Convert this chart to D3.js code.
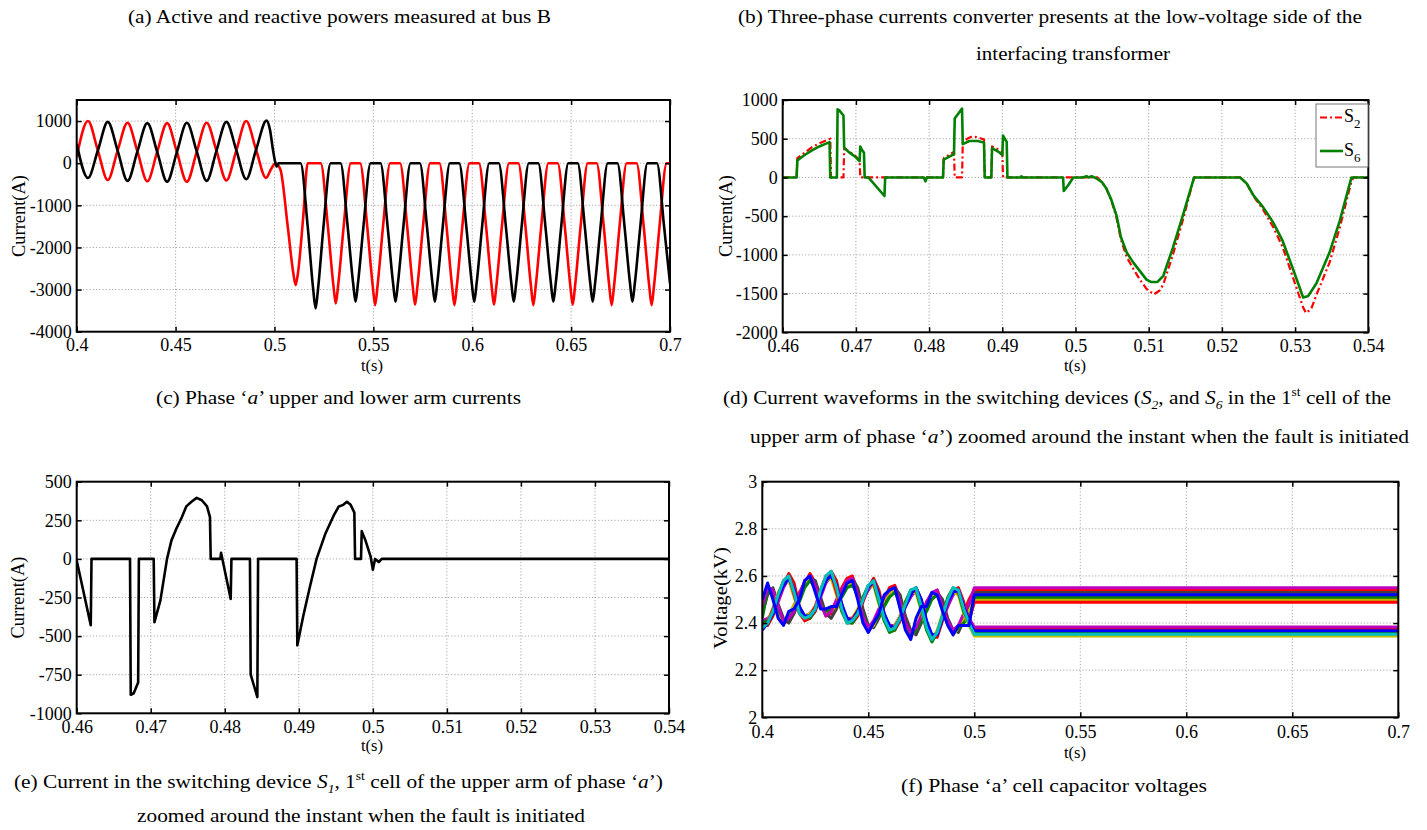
<!DOCTYPE html>
<html><head><meta charset="utf-8">
<script src="https://cdn.jsdelivr.net/npm/d3@7"></script>
<style>
body{margin:0;background:#fff;}
svg{display:block;font-family:"Liberation Serif","Times New Roman",serif;}
</style></head><body>
<svg id="chart" width="1427" height="830"></svg>
<script>
// ---------------- DATA ----------------
// Panel top-left: arm currents (A) vs t(s)
const p1XTicks = [0.4,0.45,0.5,0.55,0.6,0.65,0.7];
const p1XLabels = ["0.4","0.45","0.5","0.55","0.6","0.65","0.7"];
const p1YTicks = [-4000,-3000,-2000,-1000,0,1000];
const p1YLabels = ["-4000","-3000","-2000","-1000","0","1000"];
const p1Red = [
[0.4000,150],[0.4057,1000],[0.4107,300],[0.4157,-400],[0.4207,300],[0.4257,960],[0.4307,280],[0.4357,-430],[0.4407,270],[0.4457,950],
[0.4507,260],[0.4557,-440],[0.4607,270],[0.4657,960],[0.4707,290],[0.4757,-410],[0.4807,300],[0.4857,1000],[0.4907,320],[0.4957,-350],
[0.4985,-120],[0.5005,0],[0.5030,-150],[0.5067,-1500],[0.5095,-2600],[0.5107,-2890],[0.5119,-2600],[0.5145,-1300],[0.5168,0],
[0.5234,0],[0.5270,-1500],[0.5298,-2900],[0.5310,-3330],[0.5322,-2900],[0.5350,-1500],[0.5386,0],
[0.5433,0],[0.5469,-1500],[0.5497,-2920],[0.5509,-3370],[0.5521,-2920],[0.5549,-1500],[0.5585,0],
[0.5635,0],[0.5671,-1500],[0.5699,-2910],[0.5711,-3360],[0.5723,-2910],[0.5751,-1500],[0.5787,0],
[0.5834,0],[0.5870,-1500],[0.5898,-2920],[0.5910,-3370],[0.5922,-2920],[0.5950,-1500],[0.5986,0],
[0.6034,0],[0.6070,-1500],[0.6098,-2910],[0.6110,-3360],[0.6122,-2910],[0.6150,-1500],[0.6186,0],
[0.6233,0],[0.6269,-1500],[0.6297,-2920],[0.6309,-3370],[0.6321,-2920],[0.6349,-1500],[0.6385,0],
[0.6432,0],[0.6468,-1500],[0.6496,-2910],[0.6508,-3360],[0.6520,-2910],[0.6548,-1500],[0.6584,0],
[0.6629,0],[0.6665,-1500],[0.6693,-2920],[0.6705,-3370],[0.6717,-2920],[0.6745,-1500],[0.6781,0],
[0.6831,0],[0.6867,-1500],[0.6895,-2920],[0.6907,-3370],[0.6919,-2920],[0.6947,-1500],[0.6983,0],[0.7000,0]
];
const p1Black = [
[0.4000,460],[0.4057,-350],[0.4107,300],[0.4157,980],[0.4207,300],[0.4257,-420],[0.4307,280],[0.4357,950],[0.4407,270],[0.4457,-440],
[0.4507,270],[0.4557,960],[0.4607,280],[0.4657,-420],[0.4707,300],[0.4757,980],[0.4807,310],[0.4857,-380],[0.4907,320],[0.4960,1010],
[0.4977,800],[0.4993,300],[0.5005,0],[0.5012,-80],[0.5020,0],
[0.5132,0],[0.5168,-1500],[0.5196,-3000],[0.5208,-3450],[0.5220,-3000],[0.5248,-1500],[0.5284,0],
[0.5334,0],[0.5370,-1500],[0.5398,-2860],[0.5410,-3290],[0.5422,-2860],[0.5450,-1500],[0.5486,0],
[0.5536,0],[0.5572,-1500],[0.5600,-2860],[0.5612,-3290],[0.5624,-2860],[0.5652,-1500],[0.5688,0],
[0.5735,0],[0.5771,-1500],[0.5799,-2860],[0.5811,-3290],[0.5823,-2860],[0.5851,-1500],[0.5887,0],
[0.5934,0],[0.5970,-1500],[0.5998,-2860],[0.6010,-3290],[0.6022,-2860],[0.6050,-1500],[0.6086,0],
[0.6134,0],[0.6170,-1500],[0.6198,-2860],[0.6210,-3290],[0.6222,-2860],[0.6250,-1500],[0.6286,0],
[0.6334,0],[0.6370,-1500],[0.6398,-2860],[0.6410,-3290],[0.6422,-2860],[0.6450,-1500],[0.6486,0],
[0.6533,0],[0.6569,-1500],[0.6597,-2860],[0.6609,-3290],[0.6621,-2860],[0.6649,-1500],[0.6685,0],
[0.6734,0],[0.6770,-1500],[0.6798,-2860],[0.6810,-3290],[0.6822,-2860],[0.6850,-1500],[0.6886,0],
[0.6934,0],[0.6970,-1500],[0.7000,-2850]
];

// Panel top-right: S2 / S6 currents (A)
const p2XTicks = [0.46,0.47,0.48,0.49,0.5,0.51,0.52,0.53,0.54];
const p2XLabels = ["0.46","0.47","0.48","0.49","0.5","0.51","0.52","0.53","0.54"];
const p2YTicks = [-2000,-1500,-1000,-500,0,500,1000];
const p2YLabels = ["-2000","-1500","-1000","-500","0","500","1000"];
const legendNames = ["2","6"];
const s2Current = [
[0.4600,0],[0.4619,0],[0.4620,250],[0.4630,320],[0.4640,390],[0.4650,440],[0.4660,480],[0.4665,500],[0.4666,0],[0.4683,0],
[0.4684,380],[0.4690,340],[0.4700,270],[0.4705,220],[0.4706,0],[0.4819,0],[0.4820,250],[0.4834,330],[0.4835,0],[0.4845,0],
[0.4846,450],[0.4852,500],[0.4859,530],[0.4866,520],[0.4875,490],[0.4876,0],[0.4885,0],[0.4886,400],[0.4895,360],[0.4900,330],
[0.4901,0],[0.5030,0],[0.5036,-60],[0.5042,-140],[0.5049,-300],[0.5056,-520],[0.5062,-800],[0.5070,-1030],[0.5079,-1180],[0.5088,-1320],
[0.5097,-1440],[0.5107,-1510],[0.5115,-1460],[0.5120,-1380],[0.5133,-1000],[0.5147,-540],[0.5162,0],[0.5225,0],[0.5234,-80],[0.5243,-240],
[0.5256,-410],[0.5270,-640],[0.5283,-900],[0.5297,-1290],[0.5311,-1680],[0.5315,-1750],[0.5322,-1700],[0.5329,-1520],[0.5347,-1100],[0.5361,-650],
[0.5377,-50],[0.5380,0],[0.5400,0]
];
const s6Current = [
[0.4600,0],[0.4619,0],[0.4620,220],[0.4630,290],[0.4640,350],[0.4650,400],[0.4660,440],[0.4664,455],[0.4665,0],[0.4674,0],
[0.4675,880],[0.4677,870],[0.4683,800],[0.4684,380],[0.4690,330],[0.4700,260],[0.4705,210],[0.4706,400],[0.4708,360],[0.4711,320],
[0.4712,0],[0.4717,0],[0.4739,-240],[0.4740,0],[0.4793,0],[0.4795,-50],[0.4797,0],[0.4819,0],[0.4820,230],[0.4834,300],
[0.4835,760],[0.4845,890],[0.4846,430],[0.4855,470],[0.4866,470],[0.4875,450],[0.4876,0],[0.4885,0],[0.4886,380],[0.4895,330],
[0.4900,290],[0.4901,540],[0.4906,460],[0.4907,0],[0.4925,0],[0.4926,15],[0.4928,0],[0.4983,0],[0.4984,-175],[0.4990,-100],
[0.4997,0],[0.5010,0],[0.5015,15],[0.5018,0],[0.5022,15],[0.5026,0],[0.5030,-20],[0.5036,-60],[0.5042,-140],[0.5049,-290],
[0.5056,-490],[0.5062,-770],[0.5070,-970],[0.5079,-1100],[0.5088,-1210],[0.5097,-1320],[0.5103,-1350],[0.5112,-1350],[0.5120,-1270],[0.5133,-910],
[0.5147,-480],[0.5162,0],[0.5225,0],[0.5234,-80],[0.5243,-230],[0.5256,-380],[0.5270,-580],[0.5283,-820],[0.5297,-1180],[0.5311,-1550],
[0.5318,-1530],[0.5329,-1370],[0.5347,-970],[0.5361,-560],[0.5377,0],[0.5400,0]
];

// Panel bottom-left: S1 current (A)
const p3YTicks = [-1000,-750,-500,-250,0,250,500];
const p3YLabels = ["-1000","-750","-500","-250","0","250","500"];
const s1Current = [
[0.4600,-10],[0.4619,-430],[0.4620,0],[0.4672,0],[0.4673,-880],[0.4677,-870],[0.4683,-800],[0.4684,0],[0.4704,0],[0.4705,-410],
[0.4713,-270],[0.4722,0],[0.4728,120],[0.4735,200],[0.4742,270],[0.4748,340],[0.4755,370],[0.4762,395],[0.4769,380],[0.4776,340],
[0.4780,270],[0.4781,0],[0.4794,0],[0.4795,40],[0.4808,-260],[0.4809,0],[0.4834,0],[0.4835,-750],[0.4844,-895],[0.4845,0],
[0.4897,0],[0.4898,-560],[0.4906,-370],[0.4915,-180],[0.4924,0],[0.4936,165],[0.4947,280],[0.4954,340],[0.4960,350],[0.4965,370],
[0.4970,350],[0.4975,300],[0.4976,0],[0.4984,0],[0.4985,180],[0.4990,120],[0.4997,15],[0.5000,-70],[0.5003,0],[0.5008,-20],
[0.5012,0],[0.5400,0]
];

// Panel bottom-right: cell capacitor voltages (kV)
const p4YTicks = [2,2.2,2.4,2.6,2.8,3];
const p4YLabels = ["2","2.2","2.4","2.6","2.8","3"];
const capTimes = [
0.4000,0.4025,0.4050,0.4075,0.4100,0.4125,0.4150,0.4175,0.4200,0.4225,
0.4250,0.4275,0.4300,0.4325,0.4350,0.4375,0.4400,0.4425,0.4450,0.4475,
0.4500,0.4525,0.4550,0.4575,0.4600,0.4625,0.4650,0.4675,0.4700,0.4725,
0.4750,0.4775,0.4800,0.4825,0.4850,0.4875,0.4900,0.4925,0.4950,0.4975];
const capTailTimes = [0.5, 0.7];
// last value of each array = settled level after 0.5 s
const capA2 = [2.46,2.55,2.53,2.45,2.40,2.41,2.47,2.53,2.57,2.61, 2.57,2.49,2.43,2.44,2.49,2.55,2.59,2.60,2.53,2.44, 2.38,2.39,2.45,2.50,2.55,2.56,2.50,2.41,2.35,2.36, 2.42,2.49,2.52,2.54,2.48,2.40,2.36,2.37,2.44,2.50, 2.540];
const capA3 = [2.44,2.52,2.55,2.48,2.42,2.40,2.44,2.50,2.56,2.59, 2.58,2.51,2.44,2.42,2.46,2.52,2.57,2.59,2.55,2.46, 2.39,2.38,2.42,2.48,2.53,2.55,2.52,2.43,2.37,2.35, 2.40,2.46,2.51,2.53,2.50,2.42,2.37,2.36,2.41,2.47, 2.530];
const capA4 = [2.48,2.56,2.51,2.44,2.41,2.43,2.48,2.51,2.57,2.59, 2.54,2.47,2.44,2.45,2.48,2.53,2.56,2.57,2.51,2.42, 2.37,2.39,2.44,2.50,2.53,2.54,2.47,2.39,2.34,2.38, 2.44,2.48,2.52,2.53,2.46,2.39,2.35,2.38,2.42,2.45, 2.500];
const capA5 = [2.42,2.54,2.52,2.46,2.41,2.42,2.46,2.49,2.55,2.58, 2.55,2.48,2.45,2.46,2.48,2.51,2.55,2.56,2.52,2.44, 2.38,2.40,2.43,2.47,2.51,2.53,2.49,2.40,2.35,2.37, 2.41,2.45,2.50,2.52,2.47,2.40,2.36,2.38,2.40,2.43, 2.358];
const capA6 = [2.47,2.55,2.54,2.47,2.41,2.42,2.45,2.52,2.58,2.60, 2.56,2.48,2.43,2.45,2.50,2.54,2.58,2.59,2.52,2.43, 2.38,2.41,2.46,2.51,2.54,2.55,2.49,2.40,2.36,2.38, 2.43,2.49,2.53,2.54,2.47,2.41,2.37,2.39,2.44,2.48, 2.550];
const capB2 = [2.40,2.39,2.43,2.50,2.56,2.61,2.57,2.47,2.41,2.42, 2.45,2.52,2.59,2.62,2.58,2.48,2.41,2.40,2.43,2.49, 2.55,2.59,2.54,2.44,2.38,2.37,2.41,2.47,2.52,2.55, 2.50,2.40,2.34,2.34,2.41,2.48,2.54,2.55,2.49,2.41, 2.375];
const capB3 = [2.41,2.42,2.44,2.49,2.55,2.59,2.55,2.46,2.43,2.44, 2.47,2.51,2.57,2.60,2.56,2.47,2.42,2.42,2.45,2.50, 2.54,2.57,2.52,2.43,2.39,2.39,2.43,2.47,2.51,2.54, 2.49,2.40,2.35,2.35,2.42,2.47,2.52,2.54,2.48,2.42, 2.383];
const capB4 = [2.39,2.41,2.46,2.53,2.57,2.58,2.51,2.45,2.43,2.44, 2.47,2.53,2.58,2.59,2.52,2.45,2.41,2.42,2.46,2.51, 2.55,2.56,2.48,2.41,2.37,2.39,2.43,2.49,2.53,2.53, 2.45,2.37,2.33,2.37,2.44,2.50,2.53,2.52,2.44,2.39, 2.345];
const capB5 = [2.40,2.41,2.44,2.51,2.57,2.59,2.54,2.45,2.42,2.42, 2.46,2.53,2.59,2.61,2.54,2.45,2.40,2.40,2.44,2.51, 2.56,2.57,2.49,2.41,2.36,2.37,2.42,2.49,2.54,2.54, 2.46,2.37,2.32,2.36,2.43,2.51,2.55,2.53,2.45,2.40, 2.510];
const capB6 = [2.39,2.40,2.46,2.52,2.58,2.60,2.52,2.44,2.41,2.43, 2.47,2.54,2.60,2.61,2.53,2.46,2.41,2.42,2.45,2.50, 2.55,2.57,2.51,2.43,2.38,2.38,2.42,2.48,2.53,2.54, 2.48,2.39,2.34,2.35,2.42,2.49,2.54,2.53,2.47,2.41, 2.488];
const capB7 = [2.37,2.40,2.44,2.51,2.56,2.59,2.54,2.47,2.43,2.43, 2.46,2.52,2.58,2.60,2.56,2.48,2.42,2.41,2.45,2.50, 2.55,2.58,2.52,2.44,2.39,2.38,2.42,2.47,2.52,2.55, 2.50,2.41,2.35,2.35,2.42,2.49,2.53,2.54,2.47,2.41, 2.367];
const capB1 = [2.38,2.40,2.45,2.52,2.58,2.60,2.53,2.44,2.42,2.43, 2.46,2.54,2.60,2.62,2.55,2.46,2.40,2.41,2.44,2.50, 2.56,2.58,2.50,2.42,2.37,2.38,2.42,2.48,2.54,2.55, 2.47,2.38,2.33,2.36,2.43,2.50,2.55,2.54,2.46,2.40, 2.352];
const capA1 = [2.50,2.57,2.50,2.42,2.39,2.45,2.46,2.50,2.58,2.60, 2.53,2.46,2.46,2.47,2.47,2.52,2.57,2.58,2.50,2.40, 2.36,2.40,2.44,2.52,2.54,2.55,2.46,2.37,2.33,2.42, 2.47,2.47,2.53,2.52,2.45,2.39,2.35,2.39,2.39,2.39, 2.520];
const capSeries = [capA2,capA3,capA4,capA5,capA6,capB2,capB3,capB4,capB5,capB6,capB7,capB1,capA1];
const capColors = ["#ff0000","#404040","#bfbf00","#008000","#bf00bf","#e00000","#bf00bf","#bfbf00","#008000","#ff0000","#0000ff","#00bfbf","#0000ff"];

// ---------------- DRAW ----------------
const svg = d3.select("#chart");
const FONT = '"Liberation Serif","Times New Roman",serif';
let clipN = 0;

function drawPanel(o){
  const x = d3.scaleLinear().domain(o.xDomain).range([o.left,o.right]);
  const y = d3.scaleLinear().domain(o.yDomain).range([o.bottom,o.top]);
  const g = svg.append("g");
  const cid = "clip" + (clipN++);
  g.append("clipPath").attr("id",cid).append("rect")
    .attr("x",o.left).attr("y",o.top).attr("width",o.right-o.left).attr("height",o.bottom-o.top);
  // grid
  const grid = g.append("g").attr("stroke","#a8a8a8").attr("stroke-width",1).attr("stroke-dasharray","1.2,2");
  grid.append("g").selectAll("line").data(o.xTicks.filter(d=>d>o.xDomain[0]+1e-9 && d<o.xDomain[1]-1e-9)).join("line")
    .attr("x1",d=>x(d)).attr("x2",d=>x(d)).attr("y1",o.top).attr("y2",o.bottom);
  grid.append("g").selectAll("line").data(o.yTicks.filter(d=>d>o.yDomain[0]+1e-9 && d<o.yDomain[1]-1e-9)).join("line")
    .attr("y1",d=>y(d)).attr("y2",d=>y(d)).attr("x1",o.left).attr("x2",o.right);
  // series
  const plot = g.append("g").attr("clip-path",`url(#${cid})`);
  o.series.forEach(s=>{
    plot.append("path").datum(s.data)
      .attr("fill","none").attr("stroke",s.color).attr("stroke-width",s.width)
      .attr("stroke-dasharray",s.dash||null).attr("stroke-linejoin","round").attr("stroke-linecap","butt")
      .attr("d",d3.line().x(d=>x(d[0])).y(d=>y(d[1])).curve(s.curve||d3.curveLinear));
  });
  // axes (ticks inside, all four sides)
  const style = sel => {
    sel.select(".domain").remove();
    sel.selectAll("line").attr("stroke","#000").attr("stroke-width",1.5);
    sel.selectAll("text").attr("fill","#000").attr("font-size",o.tickFont||18).attr("font-family",FONT);
    sel.attr("font-family",FONT);
  };
  g.append("g").attr("transform",`translate(0,${o.bottom})`)
    .call(d3.axisBottom(x).tickValues(o.xTicks).tickFormat((d,i)=>o.xLabels[i]).tickSize(-5).tickPadding(o.xPad||7)).call(style);
  g.append("g").attr("transform",`translate(0,${o.top})`)
    .call(d3.axisTop(x).tickValues(o.xTicks).tickFormat("").tickSize(-5)).call(style);
  g.append("g").attr("transform",`translate(${o.left},0)`)
    .call(d3.axisLeft(y).tickValues(o.yTicks).tickFormat((d,i)=>o.yLabels[i]).tickSize(-5).tickPadding(5)).call(style);
  g.append("g").attr("transform",`translate(${o.right},0)`)
    .call(d3.axisRight(y).tickValues(o.yTicks).tickFormat("").tickSize(-5)).call(style);
  // box
  g.append("rect").attr("x",o.left).attr("y",o.top).attr("width",o.right-o.left).attr("height",o.bottom-o.top)
    .attr("fill","none").attr("stroke","#000").attr("stroke-width",2);
  // axis titles
  g.append("text").attr("x",o.xTitle[1]).attr("y",o.xTitle[2]).attr("text-anchor","middle")
    .attr("font-size",16.5).attr("font-family",FONT).text(o.xTitle[0]);
  g.append("text").attr("transform",`translate(${o.yTitle[1]},${o.yTitle[2]}) rotate(-90)`)
    .attr("text-anchor","middle").attr("dominant-baseline","central")
    .attr("font-size",18).attr("font-family",FONT)
    .attr("textLength",o.yTitle[3]).attr("lengthAdjust","spacingAndGlyphs").text(o.yTitle[0]);
  return {x,y,g};
}

// Panel 1
drawPanel({left:76.7,top:100,right:670,bottom:331.7,
  xDomain:[0.4,0.7], yDomain:[-4000,1500],
  xTicks:p1XTicks,xLabels:p1XLabels,yTicks:p1YTicks,yLabels:p1YLabels,
  xTitle:["t(s)",372,371], yTitle:["Current(A)",18.5,216,82],
  series:[
    {data:p1Red,color:"#ff0000",width:2.6,curve:d3.curveMonotoneX},
    {data:p1Black,color:"#000000",width:2.6,curve:d3.curveMonotoneX}
  ]});

// Panel 2
const P2 = drawPanel({left:782.7,top:100,right:1368.3,bottom:332.3,
  xDomain:[0.46,0.54], yDomain:[-2000,1000],
  xTicks:p2XTicks,xLabels:p2XLabels,yTicks:p2YTicks,yLabels:p2YLabels,
  xTitle:["t(s)",1075,371], yTitle:["Current(A)",726,216,82],
  series:[
    {data:s2Current,color:"#ff0000",width:2.2,dash:"7,3,2,3"},
    {data:s6Current,color:"#008000",width:2.6}
  ]});
// legend
(function(){
  const lg = P2.g.append("g");
  lg.append("rect").attr("x",1316).attr("y",104).attr("width",52).attr("height",63)
    .attr("fill","#fff").attr("stroke","#777").attr("stroke-width",1);
  const cols = ["#ff0000","#008000"], dashes = ["7,3,2,3",null], ys=[117.5,151];
  legendNames.forEach((n,i)=>{
    lg.append("line").attr("x1",1320).attr("x2",1343).attr("y1",ys[i]).attr("y2",ys[i])
      .attr("stroke",cols[i]).attr("stroke-width",i?2.6:2.2).attr("stroke-dasharray",dashes[i]);
    const t = lg.append("text").attr("x",1344).attr("y",ys[i]+4.5).attr("font-size",18).attr("font-family",FONT);
    t.append("tspan").text("S");
    t.append("tspan").attr("dy",6).attr("font-size",13).text(n);
  });
})();

// Panel 3
drawPanel({left:76.7,top:481.7,right:669,bottom:713.3,
  xDomain:[0.46,0.54], yDomain:[-1000,500],
  xTicks:p2XTicks,xLabels:p2XLabels,yTicks:p3YTicks,yLabels:p3YLabels,
  xTitle:["t(s)",372,751], yTitle:["Current(A)",17.5,597.5,82],
  series:[{data:s1Current,color:"#000000",width:2.6}]});

// Panel 4
drawPanel({left:762.3,top:481.7,right:1398.3,bottom:717.3,
  xDomain:[0.4,0.7], yDomain:[2,3], xPad:8,
  xTicks:p1XTicks,xLabels:p1XLabels,yTicks:p4YTicks,yLabels:p4YLabels,
  xTitle:["t(s)",1075,758], yTitle:["Voltage(kV)",721,598,102],
  series:capSeries.map((v,k)=>({
    data:capTimes.map((t,i)=>[t,v[i]]).concat(capTailTimes.map(t=>[t,v[v.length-1]])),
    color:capColors[k], width:3
  }))});

// ---------------- CAPTIONS ----------------
const captions = [
 {x0:128,x1:551,y:23,segs:[["(a) Active and reactive powers measured at bus B",""]]},
 {x0:738,x1:1362,y:23,segs:[["(b) Three-phase currents converter presents at the low-voltage side of the",""]]},
 {x0:976,x1:1170,y:60,segs:[["interfacing transformer",""]]},
 {x0:156,x1:521,y:404,segs:[["(c) Phase \u2018",""],["a","i"],["\u2019 upper and lower arm currents",""]]},
 {x0:723,x1:1391,y:404,segs:[["(d) Current waveforms in the switching devices (",""],["S","i"],["2","sub"],[", and ",""],["S","i"],["6","sub"],[" in the 1",""],["st","sup"],[" cell of the",""]]},
 {x0:750,x1:1409,y:443,segs:[["upper arm of phase \u2018",""],["a","i"],["\u2019) zoomed around the instant when the fault is initiated",""]]},
 {x0:14,x1:663,y:788,segs:[["(e) Current in the switching device ",""],["S","i"],["1","sub"],[", 1",""],["st","sup"],[" cell of the upper arm of phase \u2018",""],["a","i"],["\u2019)",""]]},
 {x0:137,x1:585,y:822,segs:[["zoomed around the instant when the fault is initiated",""]]},
 {x0:901,x1:1207,y:792,segs:[["(f) Phase \u2018a\u2019 cell capacitor voltages",""]]}
];
captions.forEach(c=>{
  const t = svg.append("text").attr("x",c.x0).attr("y",c.y).attr("font-size",19).attr("font-family",FONT)
    .attr("textLength",c.x1-c.x0).attr("lengthAdjust","spacingAndGlyphs").attr("fill","#000");
  let shift = 0;
  c.segs.forEach(([s,st])=>{
    const sp = t.append("tspan").text(s);
    let target = 0;
    if(st==="sub"){ target = 5; sp.attr("font-size",12).attr("font-style","italic"); }
    else if(st==="sup"){ target = -8; sp.attr("font-size",12); }
    else if(st==="i"){ sp.attr("font-style","italic"); }
    if(target!==shift){ sp.attr("dy",target-shift); shift = target; }
  });
});
</script>
</body></html>
